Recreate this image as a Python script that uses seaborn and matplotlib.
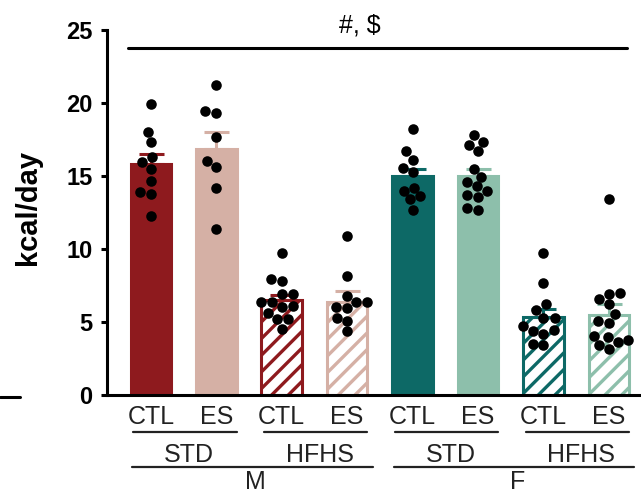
import numpy as np
import pandas as pd
import matplotlib
matplotlib.use("Agg")
import matplotlib.pyplot as plt
from matplotlib.lines import Line2D
from matplotlib.transforms import blended_transform_factory
import seaborn as sns

# ---------------- data ----------------
groups = ["M-STD-CTL", "M-STD-ES", "M-HFHS-CTL", "M-HFHS-ES",
          "F-STD-CTL", "F-STD-ES", "F-HFHS-CTL", "F-HFHS-ES"]
tick_labels = ["CTL", "ES", "CTL", "ES", "CTL", "ES", "CTL", "ES"]
diet_labels = ["STD", "HFHS", "STD", "HFHS"]
sex_labels = ["M", "F"]
means = [15.8, 16.85, 6.5, 6.4, 15.0, 15.0, 5.35, 5.5]
sems = [0.7, 1.15, 0.35, 0.75, 0.5, 0.5, 0.55, 0.75]
points = {
    "M-STD-CTL": [19.9, 18.0, 17.3, 16.3, 15.95, 15.5, 14.65, 13.9, 13.8, 12.25],
    "M-STD-ES": [21.25, 19.45, 19.3, 17.65, 15.65, 16.0, 14.15, 11.4],
    "M-HFHS-CTL": [9.75, 7.95, 7.8, 6.95, 6.95, 6.35, 6.1, 6.35, 6.05, 5.65, 5.2, 5.2, 4.55],
    "M-HFHS-ES": [10.9, 8.15, 6.8, 6.4, 6.4, 5.95, 6.05, 5.3, 5.1, 4.35],
    "F-STD-CTL": [18.2, 16.7, 16.1, 15.55, 15.25, 14.0, 14.2, 13.6, 13.4, 12.7],
    "F-STD-ES": [17.8, 17.35, 17.1, 16.7, 15.5, 14.95, 14.6, 14.3, 14.0, 13.7, 13.55, 12.8, 12.65],
    "F-HFHS-CTL": [9.7, 7.7, 6.2, 5.8, 5.25, 5.25, 4.7, 4.45, 4.35, 4.15, 3.4, 3.5],
    "F-HFHS-ES": [13.45, 7.0, 6.95, 6.55, 6.2, 5.55, 4.95, 5.05, 3.95, 4.05, 3.6, 3.75, 3.4, 3.15],
}
sig_text = "#, $"
sig_level = 23.8
y_label = "kcal/day"
y_ticks = [0, 5, 10, 15, 20, 25]

# ---------------- style ----------------
colors = ["#8E1A1E", "#D5B0A5", "#8E1A1E", "#D5B0A5",
          "#0D6966", "#8DBFAB", "#0D6966", "#8DBFAB"]
hatched = [False, False, True, True, False, False, True, True]

sns.set_style("ticks")
plt.rcParams["font.family"] = ["Liberation Sans", "DejaVu Sans"]
plt.rcParams["hatch.linewidth"] = 2.4

fig = plt.figure(figsize=(6.41, 4.94), dpi=100)
W, H = 641, 494
ax_left, ax_bottom, ax_right, ax_top = 107, 395, 641, 30
ax = fig.add_axes([ax_left / W, 1 - ax_bottom / H,
                   (ax_right - ax_left) / W, (ax_bottom - ax_top) / H])

bar_df = pd.DataFrame({"group": groups, "mean": means})
sns.barplot(data=bar_df, x="group", y="mean", hue="group", order=groups,
            hue_order=groups, palette=colors, legend=False, width=0.62,
            errorbar=None, ax=ax, zorder=1)

for i, p in enumerate(ax.patches[:len(groups)]):
    p.set_linewidth(2.2)
    if hatched[i]:
        p.set_facecolor("white")
        p.set_edgecolor(colors[i])
        p.set_hatch("//")
    else:
        p.set_facecolor(colors[i])
        p.set_edgecolor(colors[i])

for i in range(len(groups)):
    ax.errorbar(i, means[i], yerr=[[0], [sems[i]]], fmt="none",
                ecolor=colors[i], elinewidth=2.2, capsize=9, capthick=2.2,
                zorder=2.5)

pts_df = pd.DataFrame([(g, v) for g in groups for v in points[g]],
                      columns=["group", "value"])
sns.swarmplot(data=pts_df, x="group", y="value", order=groups, color="black",
              size=7.6, linewidth=0, ax=ax, zorder=3)

ax.set_xlim(-0.67, 7.49)
ax.set_ylim(0, 25)
ax.set_yticks(y_ticks)
ax.set_yticklabels([str(t) for t in y_ticks], fontsize=17, fontweight="bold")
ax.set_xticks(range(len(groups)))
ax.set_xticklabels(tick_labels, fontsize=18)
ax.tick_params(axis="x", length=0, pad=7.5, colors="#222222")
ax.tick_params(axis="y", length=4, width=2.2, pad=6.5, colors="black")
ax.set_xlabel("")
ax.set_ylabel(y_label, fontsize=21, fontweight="bold", color="black")
ax.yaxis.set_label_coords(-0.122, 0.514)
sns.despine(ax=ax)
for s in ["left", "bottom"]:
    ax.spines[s].set_linewidth(2.2)
    ax.spines[s].set_color("black")
ax.spines["bottom"].set_capstyle("butt")

# significance line
ax.plot([-0.35, 7.28], [sig_level, sig_level], color="black", lw=2.2,
        solid_capstyle="round", clip_on=False, zorder=4)
ax.text(3.2, 24.8, sig_text, ha="center", va="baseline", fontsize=18,
        color="black", clip_on=False)

# group annotations under the axis
def ay(ypx):
    return (ax_bottom - ypx) / (ax_bottom - ax_top)

trans = blended_transform_factory(ax.transData, ax.transAxes)
line_col = "#222222"
for k, lab in enumerate(diet_labels):
    c = 2 * k + 0.52
    ax.add_line(Line2D([c - 0.79, c + 0.79], [ay(432), ay(432)], transform=trans,
                       color=line_col, lw=1.6, clip_on=False))
    ax.text(2 * k + 0.58, ay(462), lab, transform=trans, ha="center",
            va="baseline", fontsize=18, color=line_col, clip_on=False)
for k, lab in enumerate(sex_labels):
    c = 4 * k + 1.55
    ax.add_line(Line2D([c - 1.84, c + 1.84], [ay(467), ay(467)], transform=trans,
                       color=line_col, lw=1.6, clip_on=False))
    ax.text(4 * k + 1.6, ay(489), lab, transform=trans, ha="center",
            va="baseline", fontsize=18, color=line_col, clip_on=False)

# stray dash at left edge of the original crop
fig.add_artist(Line2D([0, 20 / W], [1 - 397 / H, 1 - 397 / H],
                      transform=fig.transFigure, color="black", lw=2.2))

fig.savefig("out.png", dpi=100)
